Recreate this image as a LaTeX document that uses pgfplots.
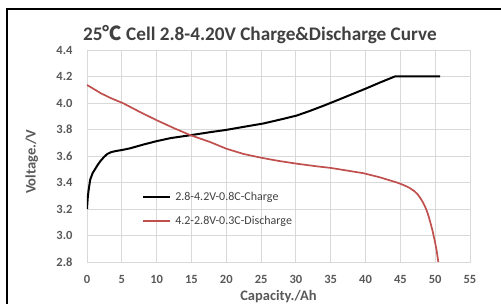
\documentclass[border=0pt]{standalone}
\usepackage{pgfplots}
\pgfplotsset{compat=1.18}
\usepackage{fontspec}
\setmainfont{Carlito}
\newfontfamily\cjk{Noto Sans CJK SC}
\definecolor{gridc}{HTML}{D9D9D9}
\definecolor{tickc}{HTML}{595959}
\definecolor{titlec}{HTML}{404040}
\definecolor{redc}{HTML}{C0504D}
\begin{document}
\begin{tikzpicture}
\useasboundingbox (0pt,0pt) rectangle (501pt,304pt);
\draw[line width=2pt] (7pt,-20pt) -- (7pt,295pt) -- (530pt,295pt);
\node[font=\bfseries\fontsize{19.2}{21}\selectfont, text=titlec] at (260pt,269pt) {25{\cjk ℃} Cell 2.8-4.20V Charge\&Discharge Curve};
\begin{axis}[
  at={(87pt,42pt)}, anchor=south west,
  width=383pt, height=212pt, scale only axis,
  xmin=0, xmax=55, ymin=2.8, ymax=4.4,
  xtick={0,5,10,15,20,25,30,35,40,45,50,55},
  ytick={2.8,3.0,3.2,3.4,3.6,3.8,4.0,4.2,4.4},
  xticklabel={\pgfmathprintnumber[assume math mode=true]{\tick}},
  yticklabel={\pgfmathprintnumber[assume math mode=true, fixed, fixed zerofill, precision=1]{\tick}},
  ticklabel style={font=\bfseries\fontsize{12.5}{14}\selectfont, text=tickc},
  xticklabel style={yshift=-10pt},
  yticklabel style={xshift=-11pt},
  major tick length=0pt,
  grid=major,
  major grid style={draw=gridc, line width=0.9pt},
  axis line style={draw=gridc, line width=0.9pt},
  xlabel={Capacity./Ah}, ylabel={Voltage./V},
  label style={font=\bfseries\fontsize{14.5}{16}\selectfont, text=tickc},
  xlabel style={at={(axis description cs:0.5,-0.165)}, anchor=center},
  ylabel style={at={(axis description cs:-0.144,0.472)}, anchor=center, rotate=0},
  legend style={at={(axis description cs:0.136,0.35)}, anchor=north west, draw=none, fill=none,
    font=\fontsize{12}{14}\selectfont, text=titlec, row sep=10pt,
    nodes={inner xsep=4pt}},
  legend cell align=left,
  legend image code/.code={\draw[#1] (0pt,0pt) -- (27pt,0pt);},
]
\addplot[black, line width=2pt, line join=round] coordinates {
(0,3.20) (0.1,3.28) (0.2,3.33) (0.45,3.42) (0.8,3.47) (1.15,3.50) (1.5,3.53) (1.9,3.56)
(2.4,3.59) (2.9,3.615) (3.5,3.63) (4.2,3.638) (5,3.645) (6.2,3.658) (8,3.685) (10,3.712)
(12,3.735) (15,3.758) (17.7,3.78) (20,3.797) (22.5,3.82) (25.3,3.845) (28,3.878)
(30.1,3.905) (32,3.94) (34,3.98) (36,4.022) (38,4.065) (40,4.108) (42,4.153) (44.2,4.20) (50.7,4.20)
};
\addlegendentry{2.8-4.2V-0.8C-Charge}
\addplot[redc, line width=1.7pt, line join=round] coordinates {
(0,4.136) (1,4.105) (2,4.073) (3.5,4.035) (5.2,3.998) (7.5,3.935) (10,3.87) (12.5,3.81)
(14.8,3.758) (17.7,3.705) (20,3.655) (22.5,3.615) (25,3.587) (27.5,3.563) (30.1,3.542)
(33,3.522) (35,3.510) (37,3.493) (39.7,3.47) (42,3.44) (44.5,3.40) (45.5,3.38) (46.3,3.36) (47,3.335)
(47.5,3.31) (47.9,3.28) (48.3,3.245) (48.7,3.2) (49,3.155) (49.3,3.10) (49.6,3.04) (49.9,2.97) (50.2,2.89) (50.45,2.80) (50.6,2.70)
};
\addlegendentry{4.2-2.8V-0.3C-Discharge}
\end{axis}
\end{tikzpicture}
\end{document}
